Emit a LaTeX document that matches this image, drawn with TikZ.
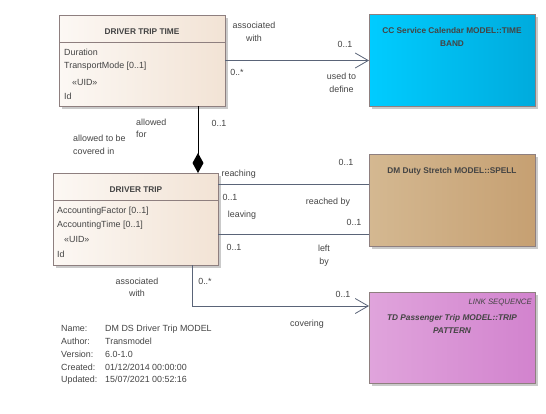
\documentclass[tikz,border=0pt]{standalone}
\usepackage{fontspec}
\setmainfont{Liberation Sans}
\usetikzlibrary{arrows.meta}
\definecolor{boxline}{HTML}{8E7F7F}
\definecolor{shadowc}{HTML}{CACACA}
\definecolor{conn}{HTML}{5A6478}
\definecolor{txtc}{HTML}{444444}
\definecolor{clsL}{HTML}{FCF8F4}
\definecolor{clsR}{HTML}{F2E3D5}
\definecolor{cyanL}{HTML}{00CCFF}
\definecolor{cyanR}{HTML}{00ABDD}
\definecolor{brnL}{HTML}{D4B891}
\definecolor{brnR}{HTML}{C6A072}
\definecolor{pnkL}{HTML}{E0A4DC}
\definecolor{pnkR}{HTML}{D283CE}
\begin{document}
\begin{tikzpicture}[x=1pt,y=-1pt,
  boxbase/.style={draw=boxline, line width=0.8pt, inner sep=0, outer sep=0,
    preaction={draw=none, fill=shadowc, transform canvas={xshift=3pt,yshift=-3pt}}},
  cls/.style={boxbase, left color=clsL, right color=clsR},
  lbl/.style={font=\fontsize{8.9}{10}\selectfont, text=txtc, inner sep=0, anchor=base},
  lblw/.style={lbl, anchor=base west},
  ttl/.style={font=\fontsize{8.3}{10}\selectfont\bfseries, text=txtc, inner sep=0, anchor=base},
  conline/.style={draw=conn, line width=0.8pt},
  openarrow/.style={-{Straight Barb[length=13pt,width=15pt,line width=0.8pt]}}
]
\useasboundingbox (0,0) rectangle (546,413);

% ---------- boxes ----------
\node[cls, minimum width=166pt, minimum height=91pt] (dtt) at (142,60.5) {};
\node[cls, minimum width=165pt, minimum height=92pt] (dt) at (135.5,219) {};
\node[boxbase, left color=cyanL, right color=cyanR, minimum width=166pt, minimum height=92pt] (cc) at (452,60) {};
\node[boxbase, left color=brnL, right color=brnR, minimum width=166pt, minimum height=92pt] (ds) at (452,200) {};
\node[boxbase, left color=pnkL, right color=pnkR, minimum width=166pt, minimum height=91pt] (tp) at (452,337.5) {};

% dividers
\draw[boxline, line width=0.8pt] ([yshift=-27pt]dtt.north west) -- ([yshift=-27pt]dtt.north east);
\draw[boxline, line width=0.8pt] ([yshift=-27pt]dt.north west) -- ([yshift=-27pt]dt.north east);

% class texts
\node[ttl] (dttT) at (142,34) {DRIVER TRIP TIME};
\node[lblw] (dttA1) at (64,55.7) {Duration};
\node[lblw] (dttA2) at (64,68.3) {TransportMode [0..1]};
\node[lblw] (dttU) at (72,85) {«UID»};
\node[lblw] (dttI) at (64,99) {Id};

\node[ttl] (dtT) at (136,192.3) {DRIVER TRIP};
\node[lblw] (dtA1) at (57,213.3) {AccountingFactor [0..1]};
\node[lblw] (dtA2) at (57,227.3) {AccountingTime [0..1]};
\node[lblw] (dtU) at (64,242.3) {«UID»};
\node[lblw] (dtI) at (57,257.3) {Id};

\node[ttl] (ccT1) at (452,33.3) {CC Service Calendar MODEL::TIME};
\node[ttl] (ccT2) at (452,46.6) {BAND};
\node[ttl] (dsT) at (452,173.3) {DM Duty Stretch MODEL::SPELL};
\node[lbl, anchor=base east, font=\fontsize{7.8}{10}\selectfont\itshape] (tpS) at (532,304.3) {LINK SEQUENCE};
\node[ttl, font=\fontsize{8.3}{10}\selectfont\bfseries\itshape] (tpT1) at (452,320) {TD Passenger Trip MODEL::TRIP};
\node[ttl, font=\fontsize{8.3}{10}\selectfont\bfseries\itshape] (tpT2) at (452,333.3) {PATTERN};

% ---------- connectors ----------
\draw[conline, openarrow] (dtt.east) -- (dtt.east -| cc.west);
\draw[black, line width=1pt, -{Diamond[length=20pt,width=11pt]}]
  ([xshift=56pt]dtt.south) -- ([xshift=56pt]dtt.south |- dt.north);
\draw[conline] ([yshift=-11pt]dt.north east) -- ([yshift=-11pt]dt.north east -| ds.west);
\draw[conline] ([yshift=-61pt]dt.north east) -- ([yshift=-61pt]dt.north east -| ds.west);
\draw[conline, openarrow] ([xshift=56.5pt]dt.south) |- ([yshift=31.5pt]tp.west);

% ---------- connector labels ----------
\node[lbl] (l1a) at (254,28.3) {associated};
\node[lbl] (l1b) at (254,41) {with};
\node[lbl] (l1c) at (345,47.3) {0..1};
\node[lbl] (l1d) at (237,75.3) {0..*};
\node[lbl] (l1e) at (341.5,79) {used to};
\node[lbl] (l1f) at (341.5,92.3) {define};

\node[lblw] (l2a) at (136,125) {allowed};
\node[lblw] (l2b) at (136,137.3) {for};
\node[lblw] (l2c) at (73,141.3) {allowed to be};
\node[lblw] (l2d) at (73,154.3) {covered in};
\node[lbl] (l2e) at (219,126.3) {0..1};

\node[lbl] (l3a) at (238.7,176.6) {reaching};
\node[lbl] (l3b) at (346,165.3) {0..1};
\node[lbl] (l3c) at (230,200) {0..1};
\node[lbl] (l3d) at (328,204.8) {reached by};

\node[lbl] (l4a) at (242,217.3) {leaving};
\node[lbl] (l4b) at (354,225.3) {0..1};
\node[lbl] (l4c) at (234,250.3) {0..1};
\node[lbl] (l4d) at (324,251.3) {left};
\node[lbl] (l4e) at (324,264) {by};

\node[lbl] (l5a) at (137,284.3) {associated};
\node[lbl] (l5b) at (137,296.6) {with};
\node[lbl] (l5c) at (205,284) {0..*};
\node[lbl] (l5d) at (343,297.6) {0..1};
\node[lbl] (l5e) at (307,326.3) {covering};

% ---------- legend ----------
\node[lblw] (n1) at (61,331.6) {Name:};
\node[lblw] (n2) at (61,344.3) {Author:};
\node[lblw] (n3) at (61,357) {Version:};
\node[lblw] (n4) at (61,370) {Created:};
\node[lblw] (n5) at (61,382.6) {Updated:};
\node[lblw] (v1) at (105,331.6) {DM DS Driver Trip MODEL};
\node[lblw] (v2) at (105,344.3) {Transmodel};
\node[lblw] (v3) at (105,357) {6.0-1.0};
\node[lblw] (v4) at (105,370) {01/12/2014 00:00:00};
\node[lblw] (v5) at (105,382.6) {15/07/2021 00:52:16};
\end{tikzpicture}
\end{document}
